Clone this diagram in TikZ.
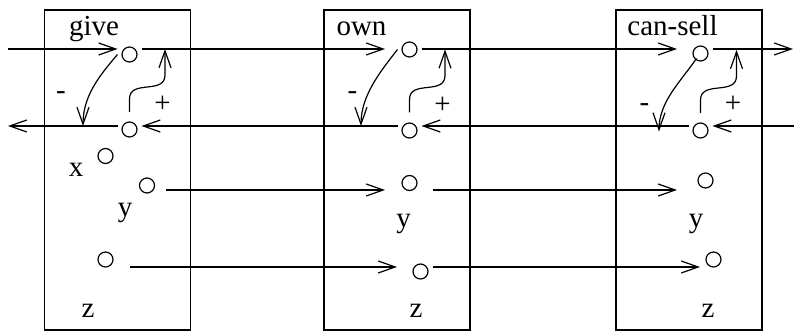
\documentclass[tikz,border=0pt]{standalone}
\usepackage{fontspec}
\setmainfont{Liberation Serif}
\usepackage{tikz}
\usetikzlibrary{arrows.meta, calc}
\tikzset{
  cellbox/.style={draw, line width=0.6pt, minimum width=73pt, minimum height=160pt, inner sep=0pt},
  dot/.style={draw, circle, line width=0.6pt, minimum size=7.5pt, inner sep=0pt, outer sep=2.25pt},
}
\begin{document}
\begin{tikzpicture}[
    x=0.5pt, y=-0.5pt,
    every node/.style={font=\fontsize{14.5}{17}\selectfont},
    arr/.style={-{Straight Barb[length=8.5pt, width=6pt]}, line width=0.6pt},
    lbl/.style={anchor=base, inner sep=0pt}
  ]
  \useasboundingbox (0,0) rectangle (794,331);

  \node[cellbox] (give) at (117.5,170) {};
  \node[cellbox] (own) at (397,170) {};
  \node[cellbox] (cansell) at (689,170) {};

  \node[lbl] (givename) at (94,35.5) {give};
  \node[lbl] (ownname) at (361.5,35.5) {own};
  \node[lbl] (cansellname) at (672.5,35.5) {can-sell};

  \node[dot] (gt) at (129.5,54.5) {};
  \node[dot] (gb) at (129.5,129.5) {};
  \node[dot] (gx) at (105.5,156) {};
  \node[dot] (gy) at (147,185.5) {};
  \node[dot] (gz) at (105.5,259.5) {};

  \node[dot] (ot) at (409.5,49.5) {};
  \node[dot] (ob) at (409.5,130.5) {};
  \node[dot] (oy) at (409.5,183) {};
  \node[dot] (oz) at (420.5,271.5) {};

  \node[dot] (ct) at (700.5,53.5) {};
  \node[dot] (cb) at (700.5,130.5) {};
  \node[dot] (cy) at (705.5,180.5) {};
  \node[dot] (cz) at (713.5,259.5) {};

  \coordinate (rowT) at (0,49);
  \coordinate (rowB) at (0,126);
  \coordinate (rowY) at (0,190);
  \coordinate (rowZ) at (0,267);
  \coordinate (inT) at (8,49);
  \coordinate (outT) at (793,49);
  \coordinate (inB) at (794,126);
  \coordinate (outB) at (8,126);

  % forward line
  \draw[arr] (inT) -- (gt.west |- rowT);
  \draw[arr, shorten >=6.25pt] (gt.east |- rowT) -- (ot.west |- rowT);
  \draw[arr, shorten >=5.75pt] (ot.east |- rowT) -- (ct.west |- rowT);
  \draw[arr] (ct.east |- rowT) -- (outT);

  % backward line
  \draw[arr] (inB) -- (cb.east |- rowB);
  \draw[arr] (cb.west |- rowB) -- (ob.east |- rowB);
  \draw[arr] (ob.west |- rowB) -- (gb.east |- rowB);
  \draw[arr] (gb.west |- rowB) -- (outB);

  \draw[arr, shorten <=3.5pt, shorten >=6.25pt] (gy.east |- rowY) -- (oy.west |- rowY);
  \draw[arr, shorten <=5.75pt, shorten >=8.25pt] (oy.east |- rowY) -- (cy.west |- rowY);
  \draw[arr, shorten <=6.25pt, shorten >=5.75pt] (gz.east |- rowZ) -- (oz.west |- rowZ);
  \draw[arr, shorten >=0.75pt] (oz.east |- rowZ) -- (cz.west |- rowZ);

  % minus / plus links
  \draw[arr] (gt.west) .. controls +(-18,21) and +(0,-30) .. ($(gb |- rowB)+(-46.5,0)$);
  \draw[arr] (ot.west) .. controls +(-18,23) and +(0,-30) .. ($(ob |- rowB)+(-48.5,0)$);
  \draw[arr] ($(ct)+(-4,5)$) .. controls +(-15,22) and +(0,-30) .. ($(cb)+(-41.5,1)$);

  \draw[arr] ($(gb)+(0,-17.5)$) -- ++(0,-13) .. controls +(0,-20) and +(0,20) .. ++(35.5,-24) -- ++(0,-26);
  \draw[arr] ($(ob)+(0,-18)$) -- ++(0,-13) .. controls +(0,-20) and +(0,20) .. ++(35.5,-24) -- ++(0,-26);
  \draw[arr] ($(cb)+(0,-17.5)$) -- ++(0,-13) .. controls +(0,-20) and +(0,20) .. ++(36,-24) -- ++(0,-26);

  \node[lbl] (gminus) at (61,99.5) {-};
  \node[lbl] (gplus) at (162.5,113) {+};
  \node[lbl] (ominus) at (352.5,99.5) {-};
  \node[lbl] (oplus) at (442.5,113.5) {+};
  \node[lbl] (cminus) at (644.5,111.5) {-};
  \node[lbl] (cplus) at (733,113) {+};

  \node[lbl] (gxname) at (76,177) {x};
  \node[lbl] (gyname) at (125,217) {y};
  \node[lbl] (gzname) at (88,318) {z};
  \node[lbl] (oyname) at (403.5,228) {y};
  \node[lbl] (ozname) at (416,318) {z};
  \node[lbl] (cyname) at (696,228) {y};
  \node[lbl] (czname) at (708,318) {z};

\end{tikzpicture}
\end{document}
